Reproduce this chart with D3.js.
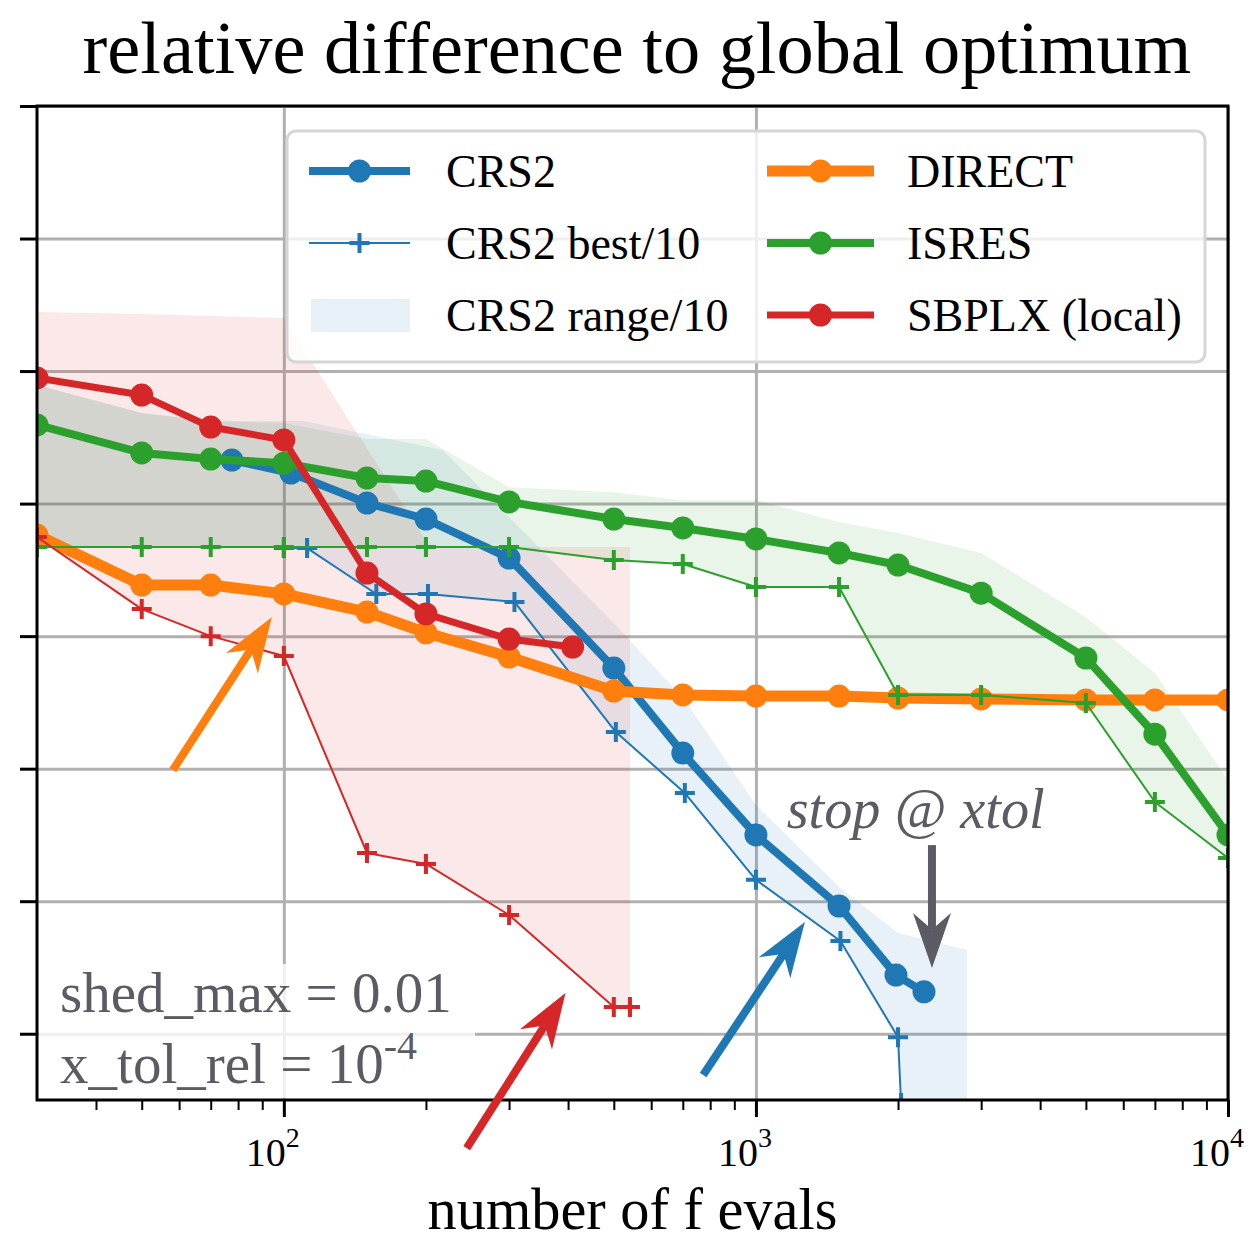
<!DOCTYPE html>
<html>
<head>
<meta charset="utf-8">
<script src="https://cdn.jsdelivr.net/npm/d3@7"></script>
<style>
  body { margin: 0; background: #fff; }
  text { font-family: "Liberation Serif", "DejaVu Serif", serif; }
</style>
</head>
<body>
<svg id="chart" width="1252" height="1243"></svg>
<script>
// number of f evals (x) and relative difference to global optimum (y)
var evalsGrid = [30, 50, 70, 100, 150, 200, 300, 500, 700, 1000, 1500, 2000, 3000, 5000, 7000, 10000];

var crs2Evals = [77.6, 103.5, 150, 200, 300, 500, 700, 1000, 1500, 1980, 2270];
var crs2Mean = [0.0213, 0.0170, 0.0101, 0.00765, 0.00388, 0.000574, 0.000131, 3.16e-5, 9.2e-6, 2.77e-6, 2.07e-6];
var crs2BestEvals = [100, 112, 157, 202, 308, 505, 707, 1000, 1510, 2000, 2030];
var crs2Best = [0.00462, 0.00462, 0.00208, 0.00208, 0.00181, 0.000189, 6.55e-5, 1.45e-5, 5.01e-6, 9.4e-7, 3e-7];
var crs2HiEvals = [30, 50, 70, 110, 217, 505, 707, 1000, 1510, 2000, 2800];
var crs2Hi = [0.0785, 0.0483, 0.0420, 0.0420, 0.0254, 0.00121, 0.00033, 5.32e-5, 1.26e-5, 5.75e-6, 4.29e-6];
var crs2LoEvals = [30, 100, 112, 157, 202, 308, 505, 707, 1000, 1510, 2000, 2030, 2800];
var crs2Lo = [0.0047, 0.00462, 0.00462, 0.00208, 0.00208, 0.00181, 0.000189, 6.55e-5, 1.45e-5, 5.01e-6, 9.4e-7, 3e-7, 1e-9];

var directVals = [0.00579, 0.00243, 0.00243, 0.00208, 0.00152, 0.00106, 0.000695, 0.000385, 0.00036, 0.000353, 0.000353, 0.000341, 0.000336, 0.00033, 0.00033, 0.00033];

var isresMean = [0.0392, 0.0241, 0.0217, 0.0202, 0.0156, 0.0148, 0.0103, 0.00765, 0.00655, 0.00541, 0.00424, 0.00344, 0.00211, 0.000684, 0.000182, 3.16e-5];
var isresBest = [0.0047, 0.0047, 0.0047, 0.0047, 0.0047, 0.0047, 0.0047, 0.00375, 0.0035, 0.00235, 0.00235, 0.00036, 0.00036, 0.000313, 5.6e-5, 2.12e-5];
var isresHi = [0.0785, 0.0483, 0.0420, 0.0406, 0.0307, 0.0307, 0.0133, 0.0122, 0.0106, 0.0106, 0.00726, 0.0060, 0.00424, 0.00139, 0.000527, 8.2e-5];

var sbplxEvals = [30, 50, 70, 100, 150, 200, 300, 409];
var sbplxMean = [0.0887, 0.0659, 0.0378, 0.0302, 0.00299, 0.00147, 0.000951, 0.000828];
var sbplxBestEvals = [30, 50, 70, 100, 150, 200, 300, 500, 541];
var sbplxBest = [0.0056, 0.0016, 0.0010, 0.000708, 2.31e-5, 1.91e-5, 7.87e-6, 1.59e-6, 1.59e-6];
var sbplxHiEvals = [30, 50, 70, 100, 204, 541];
var sbplxHi = [0.279, 0.270, 0.260, 0.251, 0.0047, 0.0047];

var xMajor = [100, 1000, 10000];
var xMinor = [40, 50, 60, 70, 80, 90, 200, 300, 400, 500, 600, 700, 800, 900, 2000, 3000, 4000, 5000, 6000, 7000, 8000, 9000];
var xTickExp = ["2", "3", "4"];
var yMajor = [1e1, 1e0, 1e-1, 1e-2, 1e-3, 1e-4, 1e-5, 1e-6];

// annotation arrows: [evals, value] tail -> head
var arrows = [
    { from: [58.2, 9.77e-5], to: [94.3, 0.00139], color: "#ff7f0e" },
    { from: [773, 4.88e-7], to: [1270, 6.97e-6], color: "#1f77b4" },
    { from: [244, 1.37e-7], to: [395, 2.03e-6], color: "#d62728" },
    { from: [2360, 2.65e-5], to: [2360, 3.13e-6], color: "#5c5b63" }
];
var stopNote = { at: [2180, 3.56e-5], text: "stop @ xtol" };

var C = { crs2: "#1f77b4", direct: "#ff7f0e", isres: "#2ca02c", sbplx: "#d62728", note: "#5c5b63", grid: "#b0b0b0" };
var plot = { left: 37, right: 1228, top: 106, bottom: 1100 };

var svg = d3.select("#chart");
var x = d3.scaleLog().domain([30, 1e4]).range([plot.left, plot.right]);
var y = d3.scaleLog().domain([Math.pow(10, -6.5), 10]).range([plot.bottom, plot.top]);

function fitToWidth(sel, width) {
    var w = sel.node().getComputedTextLength();
    sel.attr("font-size", parseFloat(sel.attr("font-size")) * width / w);
}

function pts(xs, ys) {
    return xs.map(function (v, i) { return [x(v), y(ys[i])]; });
}

// grid
svg.append("g")
    .attr("transform", "translate(0," + plot.bottom + ")")
    .call(d3.axisBottom(x).tickValues(xMajor).tickSize(-(plot.bottom - plot.top)).tickFormat(""))
    .call(function (g) { g.select(".domain").remove(); })
    .selectAll("line").attr("stroke", C.grid).attr("stroke-width", 3);
svg.append("g")
    .attr("transform", "translate(" + plot.left + ",0)")
    .call(d3.axisLeft(y).tickValues(yMajor).tickSize(-(plot.right - plot.left)).tickFormat(""))
    .call(function (g) { g.select(".domain").remove(); })
    .selectAll("line").attr("stroke", C.grid).attr("stroke-width", 3);

svg.append("clipPath").attr("id", "plotclip")
    .append("rect")
    .attr("x", plot.left).attr("y", plot.top)
    .attr("width", plot.right - plot.left).attr("height", plot.bottom - plot.top);

var area = svg.append("g").attr("clip-path", "url(#plotclip)");

function band(hiX, hi, loX, lo, color) {
    var p = pts(hiX, hi).concat(pts(loX, lo).reverse());
    area.append("path")
        .attr("d", d3.line()(p) + "Z")
        .attr("fill", color).attr("fill-opacity", 0.1);
}

function series(xs, ys, color, width, marker) {
    var p = pts(xs, ys);
    area.append("path")
        .attr("d", d3.line()(p))
        .attr("fill", "none").attr("stroke", color)
        .attr("stroke-width", width).attr("stroke-linejoin", "round");
    if (marker == "circle") {
        area.append("g").selectAll("circle").data(p).join("circle")
            .attr("cx", function (d) { return d[0]; })
            .attr("cy", function (d) { return d[1]; })
            .attr("r", 11.5).attr("fill", color);
    } else if (marker == "plus") {
        area.append("g").selectAll("path").data(p).join("path")
            .attr("d", function (d) { return "M" + (d[0] - 10) + "," + d[1] + "h20M" + d[0] + "," + (d[1] - 10) + "v20"; })
            .attr("stroke", color).attr("stroke-width", 4).attr("fill", "none");
    }
}

band(crs2HiEvals, crs2Hi, crs2LoEvals, crs2Lo, C.crs2);
band(evalsGrid, isresHi, evalsGrid, isresBest, C.isres);
band(sbplxHiEvals, sbplxHi, sbplxBestEvals, sbplxBest, C.sbplx);

series(crs2Evals, crs2Mean, C.crs2, 8, "circle");
series(crs2BestEvals, crs2Best, C.crs2, 2, "plus");
series(evalsGrid, directVals, C.direct, 11, "circle");
series(evalsGrid, isresMean, C.isres, 8, "circle");
series(evalsGrid, isresBest, C.isres, 2, "plus");
series(sbplxEvals, sbplxMean, C.sbplx, 7, "circle");
series(sbplxBestEvals, sbplxBest, C.sbplx, 2, "plus");

// axes ticks
svg.append("g")
    .attr("transform", "translate(0," + plot.bottom + ")")
    .call(d3.axisBottom(x).tickValues(xMinor).tickSize(10).tickFormat(""))
    .call(function (g) { g.select(".domain").remove(); })
    .selectAll("line").attr("stroke", "#000").attr("stroke-width", 2);
var xax = svg.append("g")
    .attr("transform", "translate(0," + plot.bottom + ")")
    .call(d3.axisBottom(x).tickValues(xMajor).tickSize(17).tickFormat(""))
    .call(function (g) { g.select(".domain").remove(); });
xax.selectAll("line").attr("stroke", "#000").attr("stroke-width", 3);
svg.append("g")
    .attr("transform", "translate(" + plot.left + ",0)")
    .call(d3.axisLeft(y).tickValues(yMajor).tickSize(17).tickFormat(""))
    .call(function (g) { g.select(".domain").remove(); })
    .selectAll("line").attr("stroke", "#000").attr("stroke-width", 3);

xMajor.forEach(function (v, i) {
    var t = svg.append("text")
        .attr("x", x(v) - 11).attr("y", 1166)
        .attr("text-anchor", "middle").attr("font-size", 40);
    t.append("tspan").text("10");
    t.append("tspan").attr("dy", -19).attr("font-size", 28).text(xTickExp[i]);
});

svg.append("rect")
    .attr("x", plot.left).attr("y", plot.top)
    .attr("width", plot.right - plot.left).attr("height", plot.bottom - plot.top)
    .attr("fill", "none").attr("stroke", "#000").attr("stroke-width", 3);

// parameter box
svg.append("rect")
    .attr("x", plot.left + 2).attr("y", 964)
    .attr("width", 436).attr("height", plot.bottom - 964 - 2)
    .attr("fill", "#fff").attr("fill-opacity", 0.8);
var shed = svg.append("text")
    .attr("x", 60).attr("y", 1012).attr("font-size", 56).attr("fill", C.note)
    .text("shed_max = 0.01");
fitToWidth(shed, 392);
var tol = svg.append("text")
    .attr("x", 60).attr("y", 1083).attr("font-size", shed.attr("font-size")).attr("fill", C.note);
tol.append("tspan").text("x_tol_rel = 10");
tol.append("tspan").attr("dy", -24).attr("font-size", parseFloat(shed.attr("font-size")) * 0.7).text("-4");

var note = svg.append("text")
    .attr("x", x(stopNote.at[0])).attr("y", y(stopNote.at[1]))
    .attr("text-anchor", "middle").attr("font-style", "italic")
    .attr("font-size", 50).attr("fill", C.note)
    .text(stopNote.text);
fitToWidth(note, 258);

function arrow(a) {
    var x0 = x(a.from[0]), y0 = y(a.from[1]), x1 = x(a.to[0]), y1 = y(a.to[1]);
    var dx = x1 - x0, dy = y1 - y0, len = Math.sqrt(dx * dx + dy * dy);
    var ux = dx / len, uy = dy / len;
    var headLen = 55, half = 19, notch = 0.7 * headLen;
    var bx = x1 - ux * headLen, by = y1 - uy * headLen;
    var nx = x1 - ux * notch, ny = y1 - uy * notch;
    svg.append("line")
        .attr("x1", x0).attr("y1", y0).attr("x2", nx).attr("y2", ny)
        .attr("stroke", a.color).attr("stroke-width", 8);
    svg.append("path")
        .attr("d", "M" + x1 + "," + y1 +
            "L" + (bx - uy * half) + "," + (by + ux * half) +
            "L" + nx + "," + ny +
            "L" + (bx + uy * half) + "," + (by - ux * half) + "Z")
        .attr("fill", a.color);
}
arrows.forEach(arrow);

// legend
var legendItems = [
    { label: "CRS2", color: C.crs2, width: 8, marker: "circle", col: 0, row: 0 },
    { label: "CRS2 best/10", color: C.crs2, width: 2, marker: "plus", col: 0, row: 1 },
    { label: "CRS2 range/10", color: C.crs2, marker: "patch", col: 0, row: 2 },
    { label: "DIRECT", color: C.direct, width: 11, marker: "circle", col: 1, row: 0 },
    { label: "ISRES", color: C.isres, width: 8, marker: "circle", col: 1, row: 1 },
    { label: "SBPLX (local)", color: C.sbplx, width: 7, marker: "circle", col: 1, row: 2 }
];
var leg = svg.append("g");
leg.append("rect")
    .attr("x", 287).attr("y", 131).attr("width", 918).attr("height", 231).attr("rx", 9)
    .attr("fill", "#fff").attr("fill-opacity", 0.8)
    .attr("stroke", "#d6d6d6").attr("stroke-width", 3);
var colX = [[309, 410, 446], [767, 874, 907]];
legendItems.forEach(function (d) {
    var cy = 171 + d.row * 72;
    var c = colX[d.col];
    var mid = (c[0] + c[1]) / 2;
    if (d.marker == "patch") {
        leg.append("rect")
            .attr("x", c[0] + 2).attr("y", cy - 16).attr("width", c[1] - c[0] - 2).attr("height", 33)
            .attr("fill", d.color).attr("fill-opacity", 0.1);
    } else {
        leg.append("line")
            .attr("x1", c[0]).attr("x2", c[1]).attr("y1", cy).attr("y2", cy)
            .attr("stroke", d.color).attr("stroke-width", d.width);
        if (d.marker == "circle") {
            leg.append("circle").attr("cx", mid).attr("cy", cy).attr("r", 11.5).attr("fill", d.color);
        } else {
            leg.append("path")
                .attr("d", "M" + (mid - 10) + "," + cy + "h20M" + mid + "," + (cy - 10) + "v20")
                .attr("stroke", d.color).attr("stroke-width", 4);
        }
    }
    leg.append("text")
        .attr("x", c[2]).attr("y", cy + 16).attr("font-size", 46)
        .text(d.label);
});

var title = svg.append("text")
    .attr("x", 637).attr("y", 73).attr("text-anchor", "middle").attr("font-size", 70)
    .text("relative difference to global optimum");
fitToWidth(title, 1109);

var xlabel = svg.append("text")
    .attr("x", (plot.left + plot.right) / 2).attr("y", 1229).attr("text-anchor", "middle").attr("font-size", 56)
    .text("number of f evals");
fitToWidth(xlabel, 410);
</script>
</body>
</html>
